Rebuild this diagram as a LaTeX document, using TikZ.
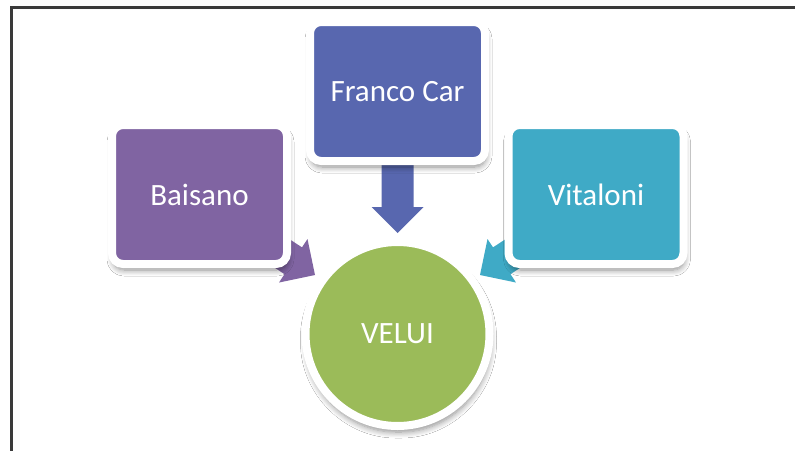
\documentclass[tikz,border=0pt]{standalone}
\usepackage{fontspec}
\setmainfont{Carlito}
\usetikzlibrary{shadows.blur}
\definecolor{cpurple}{HTML}{8064A2}
\definecolor{cblue}{HTML}{5867AF}
\definecolor{caqua}{HTML}{3FAAC6}
\definecolor{cgreen}{HTML}{9BBB59}
\definecolor{cframe}{HTML}{3A3A3A}
\tikzset{
  soft/.style={blur shadow={shadow xshift=1pt, shadow yshift=-6pt, shadow blur steps=8, shadow blur radius=6pt, shadow opacity=45, shadow blur extra rounding=3pt}},
  card/.style={rectangle, rounded corners=11pt, draw=white, line width=8pt,
    minimum width=175pt, minimum height=139pt, inner sep=0pt,
    text=white, font=\fontsize{31}{36}\selectfont, soft},
  hub/.style={circle, draw=white, line width=8pt, minimum size=184pt, inner sep=0pt,
    fill=cgreen, text=white, font=\fontsize{31}{36}\selectfont, soft},
  blockarrow/.pic={\fill[pic actions] (-75,-16) -- (-26,-16) -- (-26,-26) -- (0,0) -- (-26,26) -- (-26,16) -- (-75,16) -- cycle;}
}
\begin{document}
\begin{tikzpicture}[x=1pt,y=-1pt]
\useasboundingbox (0,0) rectangle (795,450);
\fill[white] (0,0) rectangle (795,450);
\draw[cframe, line width=2.4pt] (11.5,7.5) rectangle (805,465);
% arrow tips
\coordinate (tipL) at (315,275);
\coordinate (tipT) at (397.5,233);
\coordinate (tipR) at (480,275);
\pic[fill=cpurple, rotate=-33.2] at (tipL) {blockarrow};
\pic[fill=cblue, rotate=-90] at (tipT) {blockarrow};
\pic[fill=caqua, rotate=-146.8] at (tipR) {blockarrow};
% boxes
\node[card, fill=cpurple] (baisano) at (199.5,194.5) {Baisano};
\node[card, fill=cblue] (franco) at (397.5,91.5) {Franco Car};
\node[card, fill=caqua] (vitaloni) at (596,194.5) {Vitaloni};
\node[hub] (velui) at (397.5,334) {VELUI};
\end{tikzpicture}
\end{document}
